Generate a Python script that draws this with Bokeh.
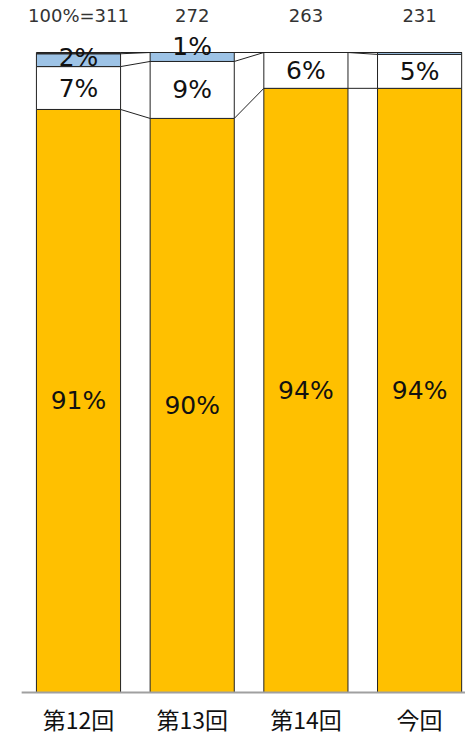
from bokeh.plotting import figure
from bokeh.models import ColumnDataSource, Range1d
from bokeh.core.properties import value
from bokeh.embed import file_html
from bokeh.resources import INLINE

categories = ["第12回", "第13回", "第14回", "今回"]
totals = ["100%=311", "272", "263", "231"]
# shares in percent (bottom to top)
orange = [91.1, 89.7, 94.4, 94.4]
white = [6.7, 8.9, 5.6, 5.3]
blue = [2.0, 1.4, 0.0, 0.3]
other = [0.2, 0.0, 0.0, 0.0]
orange_lbl = [91, 90, 94, 94]
white_lbl = [7, 9, 6, 5]
blue_lbl = [2, 1, None, None]

W, H = 465, 737
PX_X = 113.7          # pixels per category unit
PX_Y = 6.40           # pixels per percent
AXIS_PX = 692         # pixel row of the baseline
BW = 0.74
xs = [i + 0.5 for i in range(len(categories))]

x_start = 0.5 - 78 / PX_X
x_end = x_start + W / PX_X
y_start = -(H - AXIS_PX) / PX_Y
y_end = AXIS_PX / PX_Y

p = figure(width=W, height=H, output_backend="svg", toolbar_location=None,
           x_range=Range1d(x_start, x_end), y_range=Range1d(y_start, y_end),
           min_border_left=0, min_border_right=0, min_border_top=0, min_border_bottom=0)
p.outline_line_color = None
p.grid.visible = False
p.axis.visible = False

series = [(orange, "#FFC000"), (white, "#FFFFFF"), (blue, "#9DC3E6"), (other, "#404040")]
bottoms = [0.0] * len(categories)
bounds = []
for vals, col in series:
    tops = [b + v for b, v in zip(bottoms, vals)]
    src = ColumnDataSource(dict(x=xs, b=bottoms, t=tops))
    p.vbar(x="x", bottom="b", top="t", width=BW, source=src, fill_color=col,
           line_color="#222222", line_width=1)
    bounds.append(tops)
    bottoms = tops

# connector lines between adjacent bars at each cumulative boundary
x0, y0, x1, y1 = [], [], [], []
for lvl in bounds:
    for i in range(len(categories) - 1):
        x0.append(xs[i] + BW / 2); y0.append(lvl[i])
        x1.append(xs[i + 1] - BW / 2); y1.append(lvl[i + 1])
p.segment(x0=x0, y0=y0, x1=x1, y1=y1, line_color="#222222", line_width=1)

# baseline
p.segment(x0=[0.0], y0=[0.0], x1=[x_end], y1=[0.0], line_color="#a0a0a0", line_width=2)

# segment labels
lx, ly, lt, loff = [], [], [], []
for i in range(len(categories)):
    lx.append(xs[i]); ly.append(orange[i] / 2); lt.append(f"{orange_lbl[i]}%"); loff.append(0)
    lx.append(xs[i]); ly.append(orange[i] + white[i] / 2); lt.append(f"{white_lbl[i]}%"); loff.append(0)
    if blue_lbl[i] is not None:
        lx.append(xs[i]); ly.append(orange[i] + white[i] + blue[i] / 2); lt.append(f"{blue_lbl[i]}%")
        loff.append(-3 if i == 0 else -10)
p.text(x=lx, y=ly, text=lt, y_offset=loff, text_align="center", text_baseline="middle",
       text_font=value("DejaVu Sans"), text_font_size="25px", text_color="#111111")

# totals on top
p.text(x=xs, y=[(AXIS_PX - 14.5) / PX_Y] * len(xs), text=totals, text_align="center",
       text_baseline="middle", text_font=value("DejaVu Sans"), text_font_size="18px",
       text_color="#333333")

# category labels
p.text(x=xs, y=[-26 / PX_Y] * len(xs), text=categories, text_align="center",
       text_baseline="middle", text_font=value("Noto Sans CJK JP"), text_font_size="23px",
       text_color="#111111")

open("out.html", "w").write(file_html(p, INLINE))
